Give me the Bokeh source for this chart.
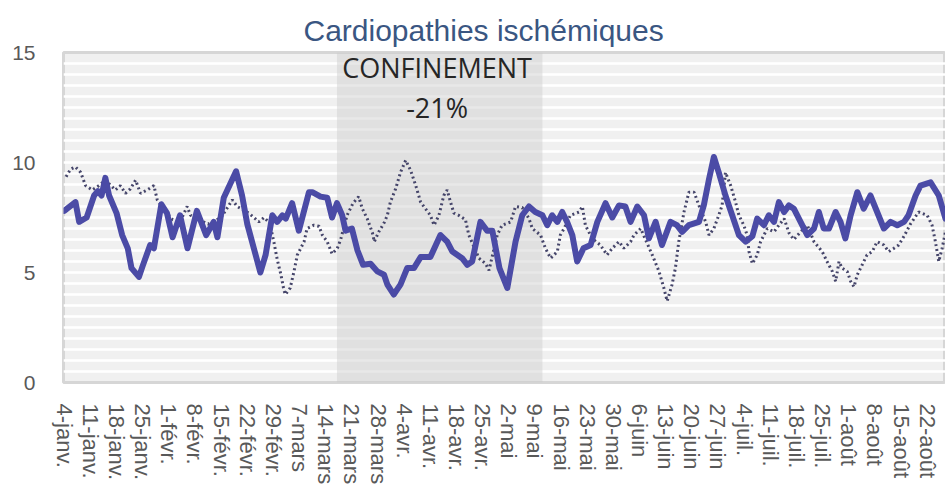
import math
from bokeh.plotting import figure
from bokeh.models import FixedTicker, Label, BoxAnnotation
from bokeh.embed import file_html
from bokeh.resources import INLINE

# ---- data (x = days since 4 janv. 2020) ----
tick_labels = ["4-janv.", "11-janv.", "18-janv.", "25-janv.", "1-févr.", "8-févr.",
               "15-févr.", "22-févr.", "29-févr.", "7-mars", "14-mars", "21-mars",
               "28-mars", "4-avr.", "11-avr.", "18-avr.", "25-avr.", "2-mai", "9-mai",
               "16-mai", "23-mai", "30-mai", "6-juin", "13-juin", "20-juin", "27-juin",
               "4-juil.", "11-juil.", "18-juil.", "25-juil.", "1-août", "8-août",
               "15-août", "22-août"]

main_day = [0, 3, 4, 6, 8, 9, 10, 11, 12, 14, 15.5, 17, 18, 20, 21, 23, 24, 26, 27.5, 29,
            31, 33, 35.5, 38, 40, 41, 42.7, 46, 47.6, 49, 52.5, 53.9, 55.7, 57, 58.4, 59.3,
            61, 62.8, 65.5, 66.4, 68.6, 70.4, 71.7, 73, 74.4, 75.3, 77, 78.5, 80, 82, 83.8,
            85.6, 86.5, 88.2, 90, 91.8, 93.6, 95.4, 98, 100.7, 102.5, 103.9, 106.5, 107.9,
            109.2, 111.4, 113.2, 114.6, 116.5, 118.6, 120.8, 122.6, 124.4, 126.1, 128,
            129.3, 130.6, 132, 133.3, 134.6, 136, 137.3, 139, 140.9, 142.7, 144.9, 146.7,
            148.5, 150.2, 151.6, 153.4, 155.2, 156.5, 158.3, 160, 162.3, 164, 165.4, 167.2,
            169.9, 171.2, 172.6, 173.9, 175.2, 177, 178.8, 180.6, 182.4, 184.2, 185.5,
            187.3, 188.6, 190, 191.3, 192.7, 194, 195.3, 197.1, 198.9, 200.7, 202, 203.3,
            204.7, 206.5, 207.8, 209.1, 210.5, 212.3, 214, 215.8, 217.6, 219.4, 221.2, 223,
            224.8, 226, 227.9, 229.2, 231.9, 234.1, 235.9]
main_val = [7.8, 8.2, 7.3, 7.5, 8.5, 8.7, 8.5, 9.3, 8.5, 7.7, 6.7, 6.1, 5.2, 4.8, 5.3, 6.25,
            6.1, 8.1, 7.7, 6.6, 7.6, 6.1, 7.8, 6.7, 7.3, 6.6, 8.4, 9.6, 8.5, 7.2, 5.0, 5.8,
            7.6, 7.3, 7.6, 7.45, 8.15, 6.9, 8.65, 8.65, 8.45, 8.4, 7.5, 8.15, 7.6, 6.9, 7.0,
            6.0, 5.35, 5.4, 5.05, 4.9, 4.45, 4.0, 4.45, 5.2, 5.2, 5.7, 5.7, 6.7, 6.4, 5.95,
            5.65, 5.35, 5.5, 7.3, 6.9, 6.9, 5.2, 4.3, 6.4, 7.6, 8.0, 7.75, 7.6, 7.15, 7.6,
            7.3, 7.75, 7.3, 6.7, 5.5, 6.1, 6.25, 7.3, 8.15, 7.5, 8.05, 8.0, 7.3, 8.0, 7.6,
            6.55, 7.3, 6.25, 7.3, 7.15, 6.85, 7.15, 7.3, 8.05, 9.25, 10.25, 9.55, 8.5, 7.6,
            6.7, 6.4, 6.65, 7.45, 7.15, 7.6, 7.3, 8.2, 7.75, 8.05, 7.9, 7.3, 6.7, 7.0, 7.75,
            7.0, 7.0, 7.75, 7.3, 6.55, 7.6, 8.65, 7.9, 8.5, 7.75, 7.0, 7.3, 7.15, 7.3, 7.6,
            8.5, 8.95, 9.1, 8.5, 7.45]

ref_day = [0.5, 1.7, 3, 4.4, 5.7, 7.5, 9.3, 11, 13.7, 15, 16.4, 17.7, 19.1, 20.4, 22.2, 24,
           24.9, 26.5, 29, 31, 32.9, 33.8, 36, 38.5, 42, 45, 46.3, 49.4, 52.1, 53.5, 55,
           56.1, 57, 58, 58.8, 59.2, 60.5, 61.5, 62.4, 64.2, 65, 66.8, 68.2, 69.1, 70.4,
           71.7, 73.1, 74, 75.7, 77.3, 78.8, 79.8, 81.1, 82.5, 83, 84.2, 85.6, 86.5, 87.3,
           88.7, 90, 91.4, 92.7, 94.1, 95.4, 96.7, 98, 99, 100.3, 101.6, 102.5, 103.4,
           104.3, 105.6, 107.4, 108.3, 111, 112.8, 113.7, 115.9, 117.2, 119.5, 120.8,
           122.6, 124.4, 125.3, 127.5, 128.8, 130.2, 132, 132.8, 133.8, 135.5, 137.8,
           138.7, 139.5, 141.3, 143.5, 145.3, 146.7, 148.5, 149.8, 151.6, 152.5, 154.3,
           157.4, 159.2, 160.5, 161.4, 162.7, 163.6, 164.5, 165.9, 167.2, 168.6, 169.9,
           171.7, 172.6, 173.9, 175.2, 176.1, 177, 178.4, 179.7, 180.6, 181.9, 182.8,
           183.3, 184.2, 185.5, 186.4, 188.2, 190, 191.3, 192.7, 194, 195.3, 197.1, 198.9,
           200.7, 202.9, 204.2, 205.6, 206.5, 207.4, 208.2, 209.6, 210.5, 211.4, 212.3,
           213.6, 214.9, 216.3, 217.6, 219.4, 220.7, 222.1, 223.4, 224.8, 226.5, 228.7,
           231, 232.3, 233.2, 234.1, 235, 235.9]
ref_val = [9.35, 9.7, 9.8, 9.55, 8.95, 8.75, 8.95, 9.2, 8.75, 8.95, 8.6, 8.8, 9.2, 8.6,
           8.75, 8.95, 8.3, 7.9, 7.4, 7.3, 8.0, 7.6, 7.4, 7.2, 7.5, 8.3, 8.0, 7.7, 7.3,
           7.5, 7.25, 6.4, 5.6, 4.9, 4.2, 4.0, 4.3, 5.05, 5.8, 6.4, 7.0, 7.15, 7.1, 6.7,
           6.4, 5.85, 6.1, 6.5, 7.6, 8.15, 8.45, 7.9, 7.45, 6.8, 6.4, 6.85, 7.25, 7.6,
           8.2, 8.8, 9.55, 10.1, 9.65, 8.95, 8.2, 7.9, 7.6, 7.15, 7.6, 8.5, 8.75, 8.2,
           7.7, 7.6, 7.4, 6.7, 5.65, 5.4, 5.1, 6.7, 7.15, 7.3, 8.0, 7.95, 7.45, 7.0, 6.7,
           6.1, 5.65, 5.95, 6.7, 7.0, 7.6, 7.75, 8.0, 7.15, 6.55, 6.25, 5.8, 6.1, 6.4, 6.1,
           6.4, 6.7, 7.0, 5.8, 5.05, 4.3, 3.7, 4.45, 5.2, 6.4, 7.75, 8.65, 8.65, 8.05, 7.3,
           6.7, 7.0, 7.6, 8.05, 9.55, 8.95, 8.2, 7.6, 7.15, 6.7, 5.95, 5.4, 5.8, 6.4, 7.0,
           6.85, 7.15, 7.45, 6.8, 6.5, 6.85, 7.15, 6.4, 5.95, 5.5, 5.05, 4.6, 5.5, 5.2,
           5.05, 4.6, 4.35, 4.9, 5.35, 5.8, 5.95, 6.4, 6.25, 5.95, 6.1, 6.25, 6.65, 7.2,
           7.75, 7.6, 7.15, 6.4, 5.5, 6.1, 6.85]

confinement_start = 73   # 17 mars
confinement_end = 128    # 11 mai
y_ticks = [0, 5, 10, 15]

tick_days = [7 * i for i in range(len(tick_labels))]

p = figure(width=945, height=487, x_range=(-0.2, 235.9), y_range=(0, 15),
           output_backend="svg", toolbar_location=None,
           min_border_left=63, min_border_right=0, min_border_top=52, min_border_bottom=103,
           background_fill_color="#f0f0f0", border_fill_color="white",
           outline_line_color="#d6d6d6", outline_line_width=3)

p.title.text = "Cardiopathies ischémiques"
p.title.align = "left"
p.title.offset = 240
p.title.standoff = 12
p.title.text_font = "Liberation Sans"
p.title.text_font_size = "30px"
p.title.text_font_style = "normal"
p.title.text_color = "#3a5682"

p.xgrid.visible = False
p.ygrid.ticker = FixedTicker(ticks=[i * 0.5 for i in range(31)])
p.ygrid.grid_line_color = "white"
p.ygrid.grid_line_width = 2.5

band = BoxAnnotation(left=confinement_start, right=confinement_end, fill_color="#cccccc",
                     fill_alpha=0.45, line_color=None, level="underlay")
p.add_layout(band)

p.line(ref_day, ref_val, line_color="#45456a", line_width=3, line_dash="2 3")
p.line(main_day, main_val, line_color="#4b4ba6", line_width=6, line_join="round",
       line_cap="round")

# axes
p.yaxis.ticker = FixedTicker(ticks=y_ticks)
p.yaxis.axis_line_color = None
p.yaxis.major_tick_line_color = None
p.yaxis.minor_tick_line_color = None
p.yaxis.major_label_text_font = "Liberation Sans"
p.yaxis.major_label_text_font_size = "21px"
p.yaxis.major_label_text_color = "#595959"
p.yaxis.major_label_standoff = 22

p.xaxis.ticker = FixedTicker(ticks=tick_days)
p.xaxis.major_label_overrides = {d: lab for d, lab in zip(tick_days, tick_labels)}
p.xaxis.major_label_orientation = "vertical"
p.xaxis.axis_line_color = None
p.xaxis.major_tick_line_color = None
p.xaxis.minor_tick_line_color = None
p.xaxis.major_label_text_font = "Liberation Sans"
p.xaxis.major_label_text_font_size = "22px"
p.xaxis.major_label_text_color = "#595959"
p.xaxis.major_label_standoff = 15

# annotations
p.add_layout(Label(x=99.8, y=14.3, text="CONFINEMENT", text_align="center",
                   text_baseline="middle", text_font="Open Sans",
                   text_font_size="27px", text_color="#262626"))
p.add_layout(Label(x=99.8, y=12.5, text="-21%", text_align="center",
                   text_baseline="middle", text_font="Open Sans",
                   text_font_size="27px", text_color="#262626"))

open("out.html", "w").write(file_html(p, INLINE))
